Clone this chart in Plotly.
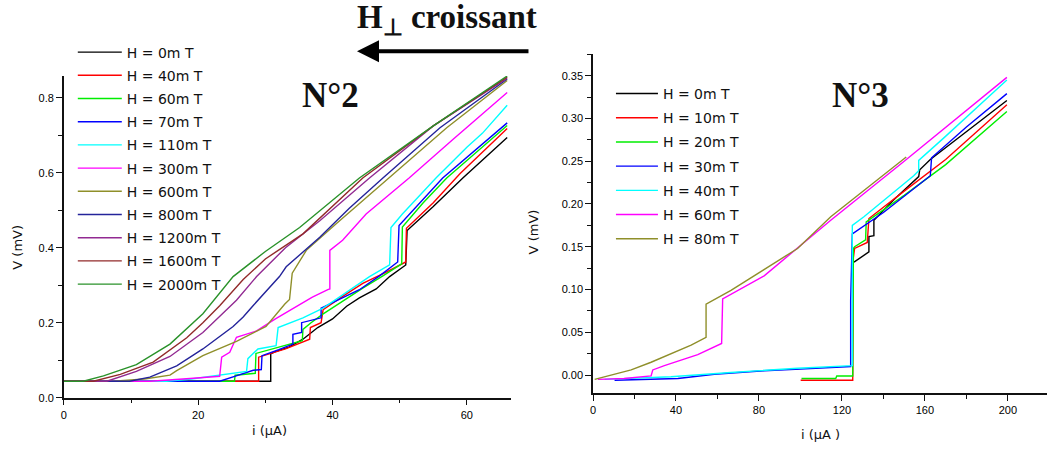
import plotly.graph_objects as go

W, H = 1047, 455

# ---------------- Left panel (N°2): i in µA, V in mV ----------------
L_labels = ["H = 0m T", "H = 40m T", "H = 60m T", "H = 70m T", "H = 110m T", "H = 300m T",
            "H = 600m T", "H = 800m T", "H = 1200m T", "H = 1600m T", "H = 2000m T"]
L_colors = ["#000000", "#ff0000", "#00ee00", "#0000ff", "#00ffff", "#ff00ff",
            "#8f8f2a", "#24249a", "#922a92", "#922a2a", "#2a922a"]

L0_x = [0, 30.8, 30.8, 31.4, 33.5, 35.6, 37.8, 40, 42.1, 44.0, 46.5, 48.5, 50.9, 51.1, 55, 59.4, 66]
L0_v = [0.044, 0.044, 0.117, 0.122, 0.135, 0.156, 0.187, 0.21, 0.244, 0.266, 0.29, 0.323, 0.354, 0.446, 0.51, 0.586, 0.694]
L40_x = [0, 29.0, 29.0, 33, 36.6, 36.7, 38.3, 38.6, 41.5, 44.5, 48, 50.9, 51.0, 55, 59, 66]
L40_v = [0.044, 0.044, 0.108, 0.13, 0.156, 0.187, 0.2, 0.235, 0.27, 0.305, 0.335, 0.362, 0.452, 0.52, 0.598, 0.718]
L60_x = [0, 25.4, 25.5, 28.5, 28.6, 32, 35.5, 35.6, 36.8, 38.5, 41.5, 44.5, 47.5, 50.3, 50.4, 53.5, 57.0, 66]
L60_v = [0.044, 0.044, 0.06, 0.065, 0.118, 0.135, 0.152, 0.182, 0.2, 0.222, 0.258, 0.292, 0.325, 0.357, 0.455, 0.52, 0.586, 0.726]
L70_x = [0, 23.2, 26, 28.2, 29.4, 29.5, 32, 34.1, 34.1, 35.4, 35.4, 38.3, 38.3, 41, 44.0, 47, 49.7, 49.9, 53, 56.4, 66]
L70_v = [0.044, 0.044, 0.06, 0.073, 0.075, 0.112, 0.128, 0.143, 0.169, 0.174, 0.2, 0.213, 0.239, 0.262, 0.288, 0.325, 0.362, 0.459, 0.52, 0.586, 0.733]
L110_x = [0, 15.3, 19, 23.5, 27.2, 27.4, 28.9, 31.6, 31.9, 35.6, 38.6, 42, 45.5, 48.5, 48.7, 50.4, 55.4, 60, 62.3, 66]
L110_v = [0.044, 0.044, 0.05, 0.06, 0.07, 0.104, 0.13, 0.139, 0.187, 0.213, 0.239, 0.28, 0.323, 0.354, 0.454, 0.49, 0.586, 0.668, 0.705, 0.78]
L300_x = [0, 12.9, 18.8, 23.2, 23.5, 24.7, 25.7, 28.7, 31.5, 34.6, 37, 39.3, 39.6, 39.6, 41.5, 45.0, 51.4, 58, 66]
L300_v = [0.044, 0.044, 0.051, 0.057, 0.108, 0.121, 0.161, 0.178, 0.21, 0.244, 0.268, 0.288, 0.29, 0.393, 0.42, 0.49, 0.586, 0.69, 0.814]
L600_x = [0, 7.4, 12, 15.8, 16.8, 20.7, 25.7, 30.1, 32.9, 33.6, 34.0, 36.1, 40.5, 44.5, 48.5, 57, 66]
L600_v = [0.044, 0.044, 0.05, 0.06, 0.072, 0.112, 0.15, 0.19, 0.25, 0.262, 0.332, 0.393, 0.463, 0.525, 0.586, 0.72, 0.846]
L800_x = [0, 9.8, 12.8, 16.8, 20.7, 25.2, 26.7, 28.1, 32.1, 33.1, 38.1, 42.5, 47.5, 56, 66]
L800_v = [0.044, 0.044, 0.055, 0.085, 0.13, 0.19, 0.215, 0.244, 0.323, 0.349, 0.428, 0.505, 0.586, 0.72, 0.85]
L1200_x = [0, 6.4, 10.8, 15.8, 20.7, 25.7, 28.7, 33, 38.1, 45.5, 55, 66]
L1200_v = [0.044, 0.044, 0.07, 0.11, 0.174, 0.26, 0.323, 0.4, 0.472, 0.586, 0.725, 0.852]
L1600_x = [0, 4.4, 8.4, 13.3, 18.3, 20.7, 23.2, 26.7, 30, 35.6, 44.5, 55, 66]
L1600_v = [0.044, 0.044, 0.062, 0.095, 0.16, 0.2, 0.245, 0.315, 0.37, 0.437, 0.586, 0.725, 0.855]
L2000_x = [0, 2.9, 5.9, 10.8, 15.8, 20.7, 25.2, 30, 35.1, 44.0, 55, 66]
L2000_v = [0.044, 0.044, 0.058, 0.088, 0.143, 0.224, 0.323, 0.39, 0.454, 0.586, 0.725, 0.858]

L_x = [L0_x, L40_x, L60_x, L70_x, L110_x, L300_x, L600_x, L800_x, L1200_x, L1600_x, L2000_x]
L_v = [L0_v, L40_v, L60_v, L70_v, L110_v, L300_v, L600_v, L800_v, L1200_v, L1600_v, L2000_v]

# ---------------- Right panel (N°3) ----------------
R_labels = ["H = 0m T", "H = 10m T", "H = 20m T", "H = 30m T", "H = 40m T", "H = 60m T", "H = 80m T"]
R_colors = ["#000000", "#ff0000", "#00ee00", "#0000ff", "#00ffff", "#ff00ff", "#8f8f2a"]

R0_x = [125.8, 133.0, 133.0, 135.4, 135.4, 145, 157.0, 157.5, 162.6, 180, 199.5]
R0_v = [0.132, 0.144, 0.162, 0.163, 0.181, 0.205, 0.232, 0.24, 0.252, 0.285, 0.321]
R10_x = [100.1, 125.2, 125.5, 126.1, 132.2, 133.0, 150, 170, 199.5]
R10_v = [-0.006, -0.006, 0.137, 0.148, 0.155, 0.183, 0.215, 0.252, 0.316]
R20_x = [100.5, 117.0, 117.5, 125.2, 125.5, 126.1, 131.4, 131.7, 150, 170, 199.5]
R20_v = [-0.004, -0.004, -0.001, -0.001, 0.148, 0.15, 0.158, 0.179, 0.21, 0.246, 0.308]
R30_x = [10.4, 40.9, 58.5, 82.5, 100, 124.2, 124.2, 125.0, 140, 162.6, 163.2, 180, 199.5]
R30_v = [-0.006, -0.004, 0.001, 0.005, 0.007, 0.01, 0.087, 0.165, 0.19, 0.233, 0.254, 0.29, 0.329]
R40_x = [5.6, 20, 37.6, 66.5, 98.6, 125.0, 125.0, 130.6, 154.6, 157.0, 157.0, 169.0, 199.5]
R40_v = [-0.005, -0.004, -0.002, 0.003, 0.008, 0.011, 0.175, 0.185, 0.233, 0.239, 0.251, 0.277, 0.345]
R60_x = [2.4, 15, 28.0, 28.8, 34.4, 50.5, 62.0, 62.5, 82.5, 114.6, 150, 199.5]
R60_v = [-0.005, -0.004, -0.001, 0.006, 0.011, 0.024, 0.037, 0.089, 0.116, 0.181, 0.25, 0.348]
R80_x = [0.8, 10.4, 18.4, 28.0, 37.6, 47.3, 54.5, 54.5, 66.5, 82.5, 98.6, 114.6, 151.0]
R80_v = [-0.005, 0.001, 0.006, 0.015, 0.025, 0.035, 0.044, 0.083, 0.099, 0.123, 0.148, 0.185, 0.255]

R_x = [R0_x, R10_x, R20_x, R30_x, R40_x, R60_x, R80_x]
R_v = [R0_v, R10_v, R20_v, R30_v, R40_v, R60_v, R80_v]


def px(x):
    return x / W


def py(y):
    return 1 - y / H


fig = go.Figure()
for i, (xs, vs) in enumerate(zip(L_x, L_v)):
    fig.add_trace(go.Scatter(x=xs, y=vs, mode="lines", name=L_labels[i],
                             line=dict(color=L_colors[i], width=1.4),
                             xaxis="x", yaxis="y", legend="legend", legendgroup=f"L{i}"))
for i, (xs, vs) in enumerate(zip(R_x, R_v)):
    fig.add_trace(go.Scatter(x=xs, y=vs, mode="lines", name=R_labels[i],
                             line=dict(color=R_colors[i], width=1.4),
                             xaxis="x2", yaxis="y2", legend="legend2", legendgroup=f"R{i}"))

tickfont = dict(family="Liberation Sans", size=11, color="#000")
axcommon = dict(showgrid=False, zeroline=False, showline=True, linecolor="#111", linewidth=1.5,
                ticks="outside", tickcolor="#111", tickwidth=1.2, ticklen=6, tickfont=tickfont)

fig.update_layout(
    width=W, height=H,
    margin=dict(l=0, r=0, t=0, b=0),
    paper_bgcolor="white", plot_bgcolor="white",
    xaxis=dict(domain=[px(61), px(509)], range=[0, 66.5], anchor="y",
               tickvals=[0, 20, 40, 60],
               minor=dict(dtick=10, tick0=0, ticks="outside", ticklen=4, tickcolor="#111"),
               **axcommon),
    yaxis=dict(domain=[py(403), py(77)], range=[0, 0.858], anchor="x",
               tickvals=[0, 0.2, 0.4, 0.6, 0.8], ticktext=["0.0", "0.2", "0.4", "0.6", "0.8"],
               minor=dict(dtick=0.1, tick0=0, ticks="outside", ticklen=4, tickcolor="#111"),
               **axcommon),
    xaxis2=dict(domain=[px(591.7), px(1046.7)], range=[0, 218.7], anchor="y2",
                tickvals=[0, 40, 80, 120, 160, 200],
                minor=dict(dtick=20, tick0=0, ticks="outside", ticklen=4, tickcolor="#111"),
                **axcommon),
    yaxis2=dict(domain=[py(398.3), py(55)], range=[-0.021, 0.375], anchor="x2",
                tickvals=[0, 0.05, 0.1, 0.15, 0.2, 0.25, 0.3, 0.35],
                ticktext=["0.00", "0.05", "0.10", "0.15", "0.20", "0.25", "0.30", "0.35"],
                minor=dict(dtick=0.025, tick0=0, ticks="outside", ticklen=4, tickcolor="#111"),
                **axcommon),
    legend=dict(x=px(70), y=py(37), xanchor="left", yanchor="top",
                bgcolor="rgba(0,0,0,0)", borderwidth=0, itemwidth=44,
                traceorder="grouped", tracegroupgap=2,
                font=dict(family="DejaVu Sans", size=14, color="#111")),
    legend2=dict(x=px(609.7), y=py(79), xanchor="left", yanchor="top",
                 bgcolor="rgba(0,0,0,0)", borderwidth=0, itemwidth=42,
                 traceorder="grouped", tracegroupgap=3,
                 font=dict(family="DejaVu Sans", size=14, color="#111")),
    showlegend=True,
)

serif = "Liberation Serif, Times New Roman, serif"


def txt(text, x, y, size, family, angle=0):
    return dict(text=text, x=px(x), y=py(y), xref="paper", yref="paper",
                xanchor="center", yanchor="middle", textangle=angle,
                showarrow=False, font=dict(family=family, size=size, color="#111"))


ann = [
    txt("<b>H<sub>⊥</sub> croissant</b>", 445, 20, 33, serif),
    dict(text="", x=px(355), y=py(52), xref="paper", yref="paper", ax=173, ay=0,
         axref="pixel", ayref="pixel", showarrow=True, arrowhead=2, arrowsize=1.1,
         arrowwidth=4, arrowcolor="black"),
    txt("<b>N°2</b>", 328, 97, 35, serif),
    txt("<b>N°3</b>", 860, 97, 35, serif),
    txt("V (mV)", 15, 250, 13, "DejaVu Sans", -90),
    txt("i (µA)", 267, 436, 13, "DejaVu Sans"),
    txt("V (mV)", 532, 235, 13, "DejaVu Sans", -90),
    txt("i (µA )", 820, 440, 13, "DejaVu Sans"),
]
fig.update_layout(annotations=ann)

fig.write_html("out.html", config={"displayModeBar": False},
               post_script="document.body.style.margin='0px';")
